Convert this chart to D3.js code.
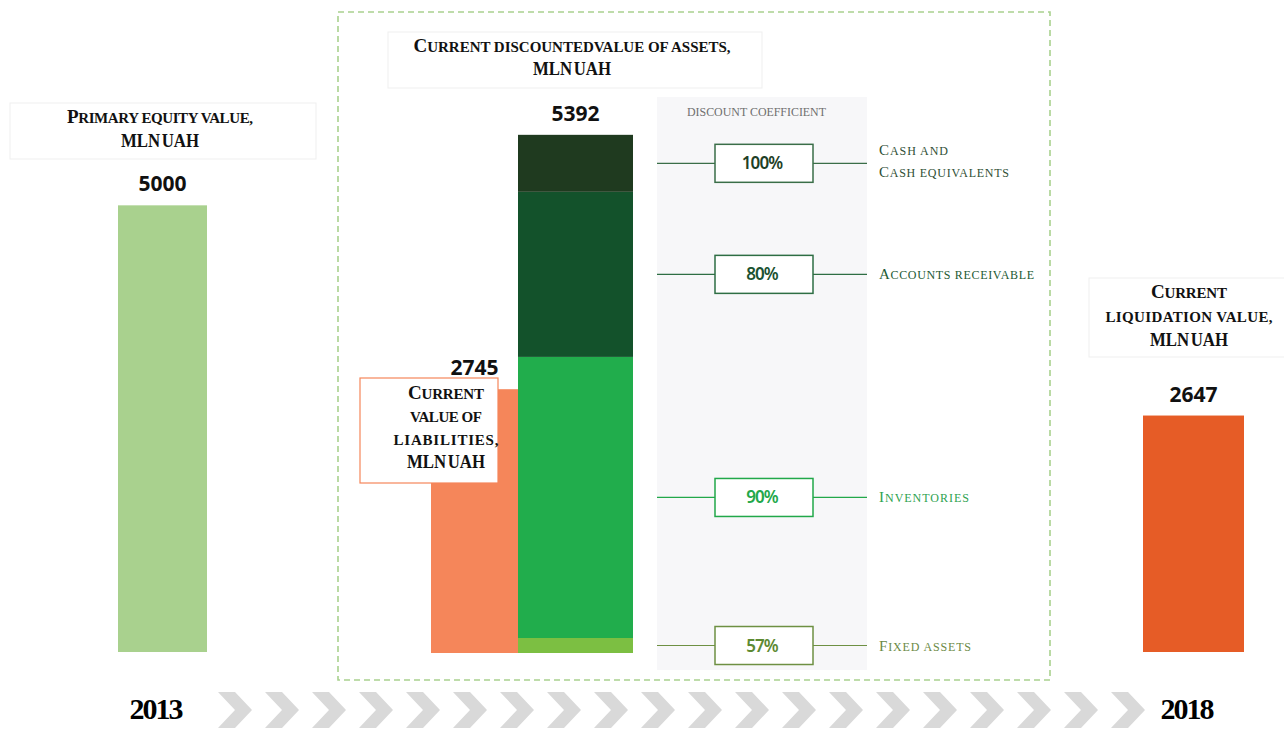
<!DOCTYPE html>
<html>
<head>
<meta charset="utf-8">
<script src="https://cdn.jsdelivr.net/npm/d3@7"></script>
<style>
  html, body { margin: 0; padding: 0; background: #ffffff; }
  svg { display: block; }
  .serif { font-family: "Liberation Serif", "DejaVu Serif", serif; }
  .num { font-family: "Open Sans", "Noto Sans", sans-serif; font-weight: 700; }
</style>
</head>
<body>
<svg id="chart" width="1284" height="730"></svg>
<script>
// ---- data ----
const barKeys   = ["equity", "liabilities", "assets", "liquidation"];
const barValues = [5000, 2745, 5392, 2647];
const barTitles = [
  ["Primary equity value,", "MLN UAH"],
  ["Current", "value of", "liabilities,", "MLN UAH"],
  ["Current discountedvalue of assets,", "MLN UAH"],
  ["Current", "liquidation value,", "MLN UAH"]
];
const years = ["2013", "2018"];

// asset components, bottom to top
const assetNames   = ["Fixed assets", "Inventories", "Accounts receivable", "Cash and|Cash equivalents"];
const assetValues  = [156, 2925, 1718, 593];
const discountPcts = ["57%", "90%", "80%", "100%"];
const coefTitle = "DISCOUNT COEFFICIENT";

// ---- layout ----
const svg = d3.select("#chart");

// outer timeline bars and the framed breakdown use their own vertical scales
const yOuter = d3.scaleLinear().domain([0, 6000]).range([652, 652 - 536]);
const yInner = d3.scaleLinear().domain([0, 6000]).range([653, 653 - 576.6]);
const yFor = k => (k === "equity" || k === "liquidation") ? yOuter : yInner;

const barX = d3.scaleOrdinal().domain(barKeys).range([118, 431, 518, 1143]);
const barW = d3.scaleOrdinal().domain(barKeys).range([89, 87, 115, 101]);
const barColor = d3.scaleOrdinal().domain(barKeys).range(["#a9d18e", "#f5865a", null, "#e65c26"]);
const segColor = d3.scaleOrdinal().domain(assetNames).range(["#7cbf42", "#21ad4c", "#13522b", "#1f3a1f"]);
const segStroke = d3.scaleOrdinal().domain(assetNames).range(["#6e9043", "#22a84a", "#2e6e44", "#3a6e48"]);
const segText = d3.scaleOrdinal().domain(assetNames).range(["#5d8a32", "#22a84a", "#1b5231", "#1f3f27"]);
const segLabel = d3.scaleOrdinal().domain(assetNames).range(["#6c8a45", "#2ea24f", "#235a34", "#2f4f35"]);

// rendered widths of the small-caps lines
const lineWidth = {
  "Primary equity value,": 186, "Current discountedvalue of assets,": 317,
  "liquidation value,": 167, "liabilities,": 105, "value of": 72,
  "Current": 76,
  "Cash and": 69, "Cash equivalents": 130, "Accounts receivable": 155,
  "Inventories": 90, "Fixed assets": 92
};
// lines whose glyphs are condensed to fit
const squeezed = { "MLN UAH": 78 };

const bars = barKeys.map((k, i) => ({ key: k, value: barValues[i] }));

// small caps: capitals at full size, other characters upper-cased at a smaller size
function smallCaps(sel, str, fs, sfs) {
  const runs = [];
  for (const ch of str) {
    const big = /[A-Z]/.test(ch);
    if (runs.length && runs[runs.length - 1].big === big) runs[runs.length - 1].s += ch;
    else runs.push({ big, s: ch });
  }
  runs.forEach(r => sel.append("tspan")
    .attr("font-size", r.big ? fs : sfs)
    .text(r.big ? r.s : r.s.toUpperCase()));
  if (lineWidth[str]) sel.attr("textLength", lineWidth[str]).attr("lengthAdjust", "spacing");
  if (squeezed[str]) sel.attr("textLength", squeezed[str]).attr("lengthAdjust", "spacingAndGlyphs");
}

// dashed frame around the assets section
svg.append("rect")
  .attr("x", 338).attr("y", 12).attr("width", 712).attr("height", 668)
  .attr("fill", "none").attr("stroke", "#a9d18e").attr("stroke-width", 1.6)
  .attr("stroke-dasharray", "6,4");

// discount coefficient panel
svg.append("rect")
  .attr("x", 657).attr("y", 97).attr("width", 210).attr("height", 573)
  .attr("fill", "#f7f7f9");
svg.append("text")
  .attr("class", "serif")
  .attr("x", 687).attr("y", 116)
  .attr("font-size", 11.5)
  .attr("fill", "#6f6f6f").attr("textLength", 139).attr("lengthAdjust", "spacingAndGlyphs")
  .text(coefTitle);

// simple bars
svg.selectAll("rect.bar")
  .data(bars.filter(d => d.key !== "assets"))
  .join("rect")
  .attr("class", "bar")
  .attr("x", d => barX(d.key))
  .attr("width", d => barW(d.key))
  .attr("y", d => yFor(d.key)(d.value))
  .attr("height", d => yFor(d.key)(0) - yFor(d.key)(d.value))
  .attr("fill", d => barColor(d.key));

// stacked assets bar
let acc = 0;
const segs = assetNames.map((n, i) => {
  const s = { name: n, v0: acc, v1: acc + assetValues[i], pct: discountPcts[i] };
  acc += assetValues[i];
  return s;
});
svg.selectAll("rect.seg")
  .data(segs)
  .join("rect")
  .attr("class", "seg")
  .attr("x", barX("assets"))
  .attr("width", barW("assets"))
  .attr("y", d => yInner(d.v1))
  .attr("height", d => yInner(d.v0) - yInner(d.v1))
  .attr("fill", d => segColor(d.name));

// value labels above bars
svg.selectAll("text.val")
  .data(bars)
  .join("text")
  .attr("class", "num val")
  .attr("x", d => barX(d.key) + barW(d.key) / 2)
  .attr("y", d => yFor(d.key)(d.value) - 14)
  .attr("text-anchor", "middle")
  .attr("font-size", 21)
  .attr("fill", "#111")
  .text(d => d.value);

// connector lines, coefficient boxes and component names
const conn = svg.selectAll("g.conn").data(segs).join("g").attr("class", "conn")
  .attr("transform", d => `translate(0,${yInner((d.v0 + d.v1) / 2)})`);
conn.append("line")
  .attr("x1", 657).attr("x2", 867).attr("y1", 0).attr("y2", 0)
  .attr("stroke", d => segStroke(d.name)).attr("stroke-width", 1.2);
conn.append("rect")
  .attr("x", 715).attr("y", -19).attr("width", 98).attr("height", 38)
  .attr("fill", "#ffffff").attr("stroke", d => segStroke(d.name)).attr("stroke-width", 1.5);
conn.append("text")
  .attr("x", 762).attr("y", 6)
  .attr("text-anchor", "middle")
  .attr("font-family", "Noto Sans, sans-serif").attr("font-weight", 600)
  .attr("font-size", 17).attr("letter-spacing", -0.9)
  .attr("fill", d => segText(d.name))
  .text(d => d.pct);
conn.each(function (d) {
  const lines = d.name.split("|");
  lines.forEach((ln, i) => {
    const t = d3.select(this).append("text")
      .attr("class", "serif")
      .attr("x", 879)
      .attr("y", lines.length === 1 ? 5 : -8 + i * 22)
      .attr("fill", segLabel(d.name));
    smallCaps(t, ln, 15, 12);
  });
});

// title boxes
function titleBox(cfg) {
  const g = svg.append("g");
  g.append("rect")
    .attr("x", cfg.x).attr("y", cfg.y).attr("width", cfg.w).attr("height", cfg.h)
    .attr("fill", "#ffffff").attr("stroke", cfg.stroke).attr("stroke-width", cfg.sw || 1);
  cfg.lines.forEach((ln, i) => {
    const t = g.append("text").attr("class", "serif")
      .attr("font-weight", 700).attr("fill", "#111")
      .attr("text-anchor", "middle")
      .attr("x", cfg.cx).attr("y", cfg.base + i * cfg.lh)
      .attr("word-spacing", ln === "MLN UAH" ? -2 : 0);
    smallCaps(t, ln, 19, 15);
  });
}
titleBox({ x: 10, y: 103, w: 306, h: 56, stroke: "#efefef", lines: barTitles[0], cx: 160, base: 123, lh: 24 });
titleBox({ x: 388, y: 32, w: 374, h: 56, stroke: "#efefef", lines: barTitles[2], cx: 572, base: 52, lh: 23 });
titleBox({ x: 360, y: 378, w: 138, h: 105, stroke: "#f5865a", sw: 1.2, lines: barTitles[1], cx: 446, base: 399, lh: 23 });
titleBox({ x: 1089, y: 278, w: 200, h: 79, stroke: "#efefef", lines: barTitles[3], cx: 1189, base: 298, lh: 24 });

// timeline chevrons
const chevrons = d3.range(20);
svg.selectAll("path.chev")
  .data(chevrons)
  .join("path")
  .attr("class", "chev")
  .attr("d", i => {
    const x0 = 218 + i * 47;
    return `M${x0},692 L${x0 + 17},692 L${x0 + 34},710 L${x0 + 17},728 L${x0},728 L${x0 + 17},710 Z`;
  })
  .attr("fill", "#d9d9d9");

svg.selectAll("text.year")
  .data(years)
  .join("text")
  .attr("class", "serif year")
  .attr("x", (d, i) => i === 0 ? 155.5 : 1186.5)
  .attr("y", 719)
  .attr("text-anchor", "middle")
  .attr("font-weight", 700)
  .attr("font-size", 30).attr("letter-spacing", -2)
  .attr("fill", "#000")
  .text(d => d);
</script>
</body>
</html>
